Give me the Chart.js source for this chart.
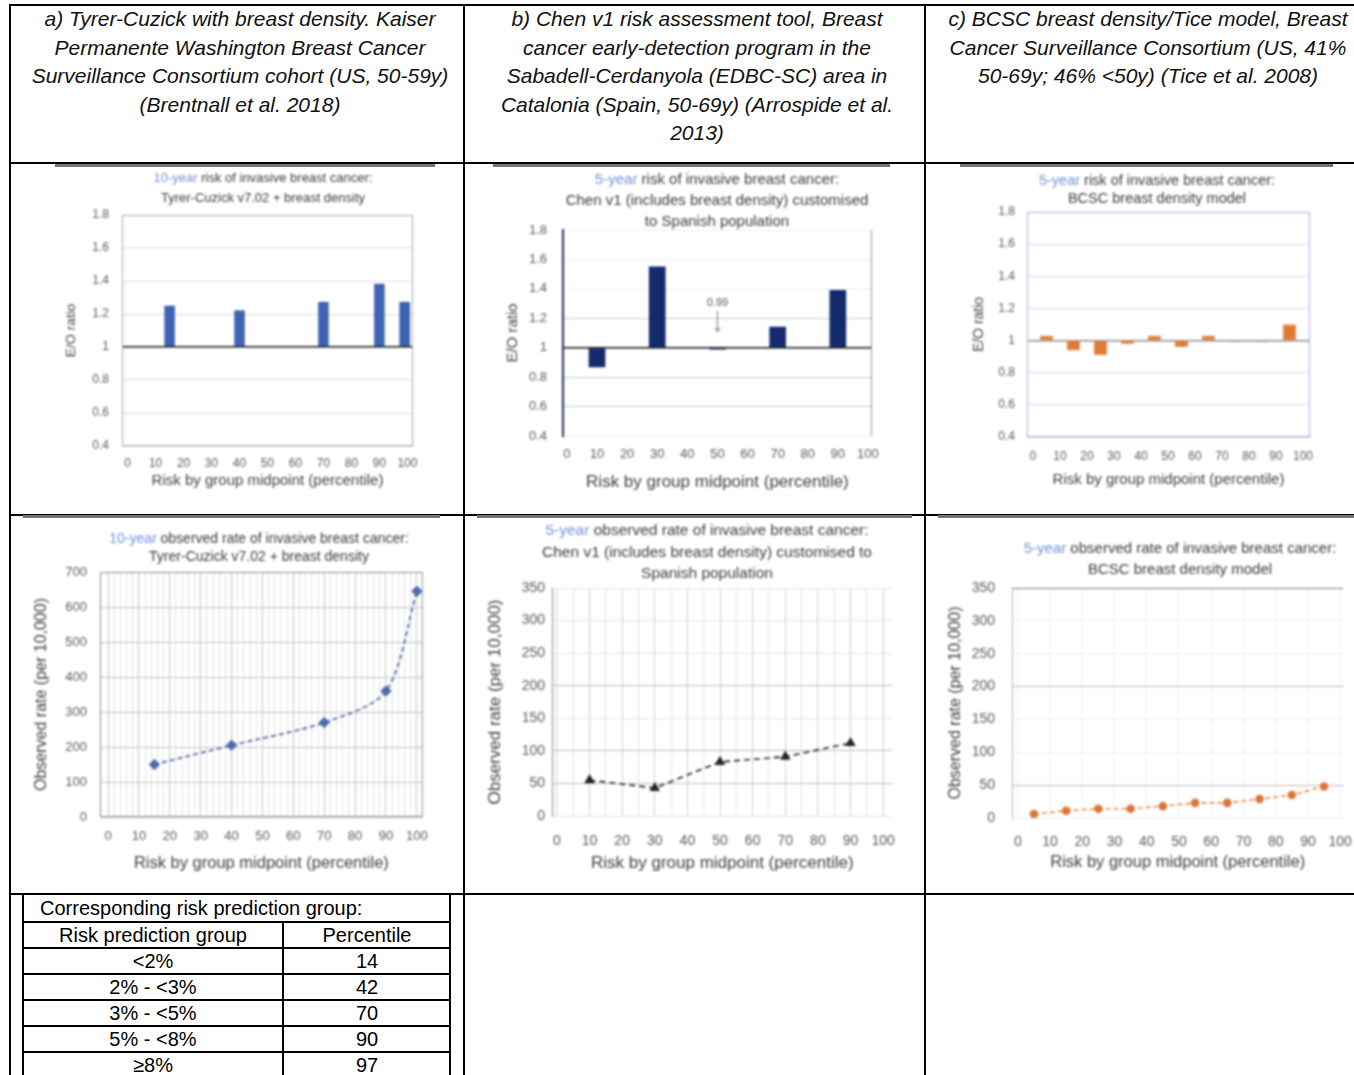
<!DOCTYPE html>
<html lang="en">
<head>
<meta charset="utf-8">
<title>Calibration of breast cancer risk models</title>
<script src="https://cdn.jsdelivr.net/npm/chart.js@4.4.1/dist/chart.umd.min.js"></script>
<style>
  html, body { margin: 0; padding: 0; background: #fff; }
  body { width: 1354px; height: 1075px; overflow: hidden; position: relative;
         font-family: "Liberation Sans", Arial, sans-serif; }
  .rule { position: absolute; background: #000; }
  .head { position: absolute; top: 5px; font-style: italic; font-size: 21px; line-height: 28.5px;
          text-align: center; white-space: nowrap; color: #111; }
  .band { position: absolute; height: 3px; background: linear-gradient(#8a8a8a, #333); }
  .fig { position: absolute; background: #fff; filter: blur(0.8px); }
  .fig canvas { position: absolute; left: 0; top: 0; }
  .ct { position: absolute; width: 520px; text-align: center; white-space: nowrap; color: #3b3b3b; }
  .ct .yr { color: #7092d8; }
  .cell { position: absolute; font-size: 20px; line-height: 26px; white-space: nowrap; color: #000; }
</style>
</head>
<body>

<div class="head" style="left:14px;width:452px">a) Tyrer-Cuzick with breast density. Kaiser<br>Permanente Washington Breast Cancer<br>Surveillance Consortium cohort (US, 50-59y)<br>(Brentnall et al. 2018)</div>
<div class="head" style="left:467px;width:460px">b) Chen v1 risk assessment tool, Breast<br>cancer early-detection program in the<br>Sabadell-Cerdanyola (EDBC-SC) area in<br>Catalonia (Spain, 50-69y) (Arrospide et al.<br>2013)</div>
<div class="head" style="left:926px;width:444px">c) BCSC breast density/Tice model, Breast<br>Cancer Surveillance Consortium (US, 41%<br>50-69y; 46% &lt;50y) (Tice et al. 2008)</div>

<script>
// ---------------- data ----------------
const pctAxisLabels = [0, 10, 20, 30, 40, 50, 60, 70, 80, 90, 100];

// Tyrer-Cuzick v7.02 + breast density (Kaiser Permanente Washington, 10-year)
const tcRatioPct = [15, 40, 70, 90, 99];
const tcRatio    = [1.25, 1.22, 1.27, 1.38, 1.27];
const tcRatePct  = [15, 40, 70, 90, 100];
const tcRate     = [150, 205, 270, 360, 645];

// Chen v1 customised to the Spanish population (EDBC-SC, 5-year)
const chenRatioPct = [10, 30, 50, 70, 90];
const chenRatio    = [0.87, 1.55, 0.99, 1.14, 1.39];
const chenRatePct  = [10, 30, 50, 70, 90];
const chenRate     = [55, 43, 83, 91, 112];

// BCSC breast density model (5-year), decile midpoints
const bcscPct   = [5, 15, 25, 35, 45, 55, 65, 75, 85, 95];
const bcscRatio = [1.03, 0.94, 0.91, 0.98, 1.03, 0.96, 1.03, 0.995, 0.995, 1.10];
const bcscRate  = [6, 11, 14, 14, 18, 23, 23, 29, 35, 48];

// risk prediction groups of panel a and their percentile
const riskGroups      = ['<2%', '2% - <3%', '3% - <5%', '5% - <8%', '≥8%'];
const groupPercentile = [14, 42, 70, 90, 97];

// ---------------- page grid ----------------
function rule(x, y, w, h) {
  const d = document.createElement('div');
  d.className = 'rule';
  d.style.cssText = `left:${x}px;top:${y}px;width:${w}px;height:${h}px`;
  document.body.appendChild(d);
}
rule(9, 4, 1400, 2);
rule(9, 4, 2, 1100);
rule(463, 4, 2, 1100);
rule(924, 4, 2, 1100);
rule(9, 162, 1400, 2);
rule(9, 514, 1400, 2);
rule(9, 893, 1400, 2);

// lookup table under panel a
rule(22, 893, 2, 200);
rule(449, 893, 2, 200);
rule(282, 921, 2, 200);
[921, 947, 973, 999, 1025, 1051].forEach(y => rule(22, y, 429, 2));

function cell(text, x, y, align) {
  const d = document.createElement('div');
  d.className = 'cell';
  d.textContent = text;
  if (align === 'left') {
    d.style.cssText = `left:${x}px;top:${y - 13}px`;
  } else {
    d.style.cssText = `left:${x - 150}px;top:${y - 13}px;width:300px;text-align:center`;
  }
  document.body.appendChild(d);
}
cell('Corresponding risk prediction group:', 40, 908, 'left');
cell('Risk prediction group', 153, 935);
cell('Percentile', 367, 935);
riskGroups.forEach((g, i) => {
  const y = 961 + i * 26;
  cell(g, 153, y);
  cell(String(groupPercentile[i]), 367, y);
});

// ---------------- charts ----------------
const FONT = '"Liberation Sans", Arial, sans-serif';
const TICK_C = '#5a5a5a';
const AXT_C = '#3f3f3f';
const near = (a, b) => Math.abs(a - b) < 1e-6;

const plotFrame = {
  id: 'plotFrame',
  beforeDatasetsDraw(chart, _args, o) {
    if (!o || !o.color) return;
    const a = chart.chartArea, c = chart.ctx, s = o.sides || 'trbl';
    c.save();
    c.strokeStyle = o.color;
    c.lineWidth = o.width || 1;
    c.beginPath();
    if (s.includes('t')) { c.moveTo(a.left, a.top + 0.5); c.lineTo(a.right, a.top + 0.5); }
    if (s.includes('r')) { c.moveTo(a.right - 0.5, a.top); c.lineTo(a.right - 0.5, a.bottom); }
    if (s.includes('b')) { c.moveTo(a.left, a.bottom - 0.5); c.lineTo(a.right, a.bottom - 0.5); }
    if (s.includes('l')) { c.moveTo(a.left + 0.5, a.top); c.lineTo(a.left + 0.5, a.bottom); }
    c.stroke();
    c.restore();
  }
};

// value label with a small arrow pointing at a bar that is too short to see
const callout = {
  id: 'callout',
  afterDatasetsDraw(chart, _args, o) {
    if (!o || o.index === undefined) return;
    const el = chart.getDatasetMeta(0).data[o.index];
    const v = chart.data.datasets[0].data[o.index].y;
    const y1 = chart.scales.y.getPixelForValue(1);
    const c = chart.ctx;
    c.save();
    c.fillStyle = '#555';
    c.strokeStyle = '#777';
    c.font = `11px ${FONT}`;
    c.textAlign = 'center';
    c.textBaseline = 'middle';
    c.fillText(v.toFixed(2), el.x, y1 - 45);
    c.beginPath();
    c.moveTo(el.x, y1 - 37); c.lineTo(el.x, y1 - 16);
    c.moveTo(el.x - 2.5, y1 - 20); c.lineTo(el.x, y1 - 16); c.lineTo(el.x + 2.5, y1 - 20);
    c.stroke();
    c.restore();
  }
};
Chart.register(plotFrame, callout);

function addFigure(f) {
  const band = document.createElement('div');
  band.className = 'band';
  band.style.cssText = `left:${f.left}px;top:${f.top - 3}px;width:${f.w}px`;
  document.body.appendChild(band);
  const box = document.createElement('div');
  box.className = 'fig';
  box.style.cssText = `left:${f.left}px;top:${f.top}px;width:${f.w}px;height:${f.h}px`;
  const cv = document.createElement('canvas');
  cv.width = f.w; cv.height = f.h;
  box.appendChild(cv);
  const t = document.createElement('div');
  t.className = 'ct';
  t.style.cssText = `left:${f.title.cx - 260}px;top:${f.title.top}px;font-size:${f.title.size}px;line-height:${f.title.lh}px`;
  t.innerHTML = f.title.lines
    .map(l => (l[0] ? `<span class="yr">${l[0]}</span>` : '') + l[1].replace(/</g, '&lt;'))
    .join('<br>');
  box.appendChild(t);
  document.body.appendChild(box);
  return cv;
}

function makeChart(f) {
  const cv = addFigure(f);
  const [pl, pt, pr, pb] = f.plot;
  const lh = s => s * 1.2;
  return new Chart(cv, {
    type: f.type,
    data: { datasets: f.datasets },
    options: {
      responsive: false,
      animation: false,
      devicePixelRatio: 1,
      layout: { padding: { left: 0, top: pt, right: f.w - pr, bottom: 0 } },
      plugins: {
        legend: { display: false },
        tooltip: { enabled: false },
        plotFrame: f.frame || false,
        callout: f.callout || false
      },
      scales: {
        x: {
          type: 'linear', min: f.x.min, max: f.x.max, offset: false,
          afterFit: s => { s.height = f.h - pb; },
          afterBuildTicks: s => { s.ticks = f.x.grid.map(v => ({ value: v })); },
          ticks: {
            autoSkip: false, maxRotation: 0, minRotation: 0, padding: f.x.pad,
            color: TICK_C, font: { family: FONT, size: f.tickSize },
            callback: v => (pctAxisLabels.includes(v) ? String(v) : '')
          },
          grid: {
            display: !!f.x.gridColor, offset: false, drawTicks: false,
            color: c => (f.x.gridColor ? f.x.gridColor(c.tick.value) : 'transparent')
          },
          border: f.x.border || { display: false },
          title: {
            display: true, text: 'Risk by group midpoint (percentile)', color: AXT_C,
            font: { family: FONT, size: f.x.titleSize },
            padding: { top: 0, bottom: f.x.titleCenter - lh(f.x.titleSize) / 2 }
          }
        },
        y: {
          min: f.y.min, max: f.y.max,
          afterFit: s => { s.width = pl; },
          ticks: {
            stepSize: f.y.step, padding: f.y.pad, color: TICK_C,
            font: { family: FONT, size: f.tickSize },
            callback: v => String(+v.toFixed(1))
          },
          grid: {
            drawTicks: false,
            color: c => f.y.gridColor(c.tick.value),
            lineWidth: c => (f.y.gridWidth ? f.y.gridWidth(c.tick.value) : 1)
          },
          border: f.y.border || { display: false },
          title: {
            display: true, text: f.y.title, color: AXT_C,
            font: { family: FONT, size: f.y.titleSize },
            padding: { top: f.y.titleCenter - lh(f.y.titleSize) / 2, bottom: 0 }
          }
        }
      }
    }
  });
}

const pts = (xs, ys) => xs.map((x, i) => ({ x, y: ys[i] }));
const gridEvery = step => { const g = []; for (let v = 0; v <= 100; v += step) g.push(v); return g; };

// panel a, E/O ratio
makeChart({
  left: 55, top: 167, w: 380, h: 326, plot: [67, 48, 358, 279], type: 'bar',
  title: { cx: 208, top: 1, lh: 20, size: 13,
           lines: [['10-year', ' risk of invasive breast cancer:'], [null, 'Tyrer-Cuzick v7.02 + breast density']] },
  tickSize: 12,
  x: { min: -2, max: 102, grid: pctAxisLabels, pad: 10, titleSize: 15, titleCenter: 12 },
  y: { min: 0.4, max: 1.8, step: 0.2, pad: 13, title: 'E/O ratio', titleSize: 13.5, titleCenter: 16,
       gridColor: v => (near(v, 1) ? '#111' : '#dadada'), gridWidth: v => (near(v, 1) ? 1.5 : 1) },
  frame: { color: '#a9a9a9' },
  datasets: [{ data: pts(tcRatioPct, tcRatio), base: 1, barThickness: 10,
               backgroundColor: '#3e64b6', borderColor: '#2d4f98', borderWidth: 1 }]
});

// panel b, E/O ratio
makeChart({
  left: 493, top: 167, w: 397, h: 326, plot: [70, 63, 381, 269], type: 'bar',
  title: { cx: 224, top: 0.5, lh: 21, size: 15,
           lines: [['5-year', ' risk of invasive breast cancer:'],
                   [null, 'Chen v1 (includes breast density) customised'],
                   [null, 'to Spanish population']] },
  tickSize: 13,
  x: { min: -1.3, max: 101.3, grid: pctAxisLabels, pad: 11, titleSize: 17, titleCenter: 11 },
  y: { min: 0.4, max: 1.8, step: 0.2, pad: 16, title: 'E/O ratio', titleSize: 15, titleCenter: 20,
       gridColor: v => (near(v, 1) ? '#111' : ([1.2, 0.8, 0.6].some(g => near(v, g)) ? '#c8c8c8' : '#eeeeee')),
       gridWidth: v => (near(v, 1) ? 1.5 : 1),
       border: { display: true, color: '#1e2d63', width: 2 } },
  frame: { color: '#8090b4', sides: 'r' },
  callout: { index: 2 },
  datasets: [{ data: pts(chenRatioPct, chenRatio), base: 1, barThickness: 16,
               backgroundColor: '#142a6b', borderColor: '#142a6b', borderWidth: 0 }]
});

// panel c, E/O ratio
makeChart({
  left: 960, top: 167, w: 373, h: 326, plot: [67, 45, 350, 270], type: 'bar',
  title: { cx: 197, top: 4, lh: 18, size: 14.5,
           lines: [['5-year', ' risk of invasive breast cancer:'], [null, 'BCSC breast density model']] },
  tickSize: 12,
  x: { min: -2.2, max: 102.6, grid: pctAxisLabels, pad: 12, titleSize: 15, titleCenter: 13 },
  y: { min: 0.4, max: 1.8, step: 0.2, pad: 12, title: 'E/O ratio', titleSize: 14, titleCenter: 19,
       gridColor: v => (near(v, 1) ? '#8c8c8c' : '#cfd8ea'), gridWidth: v => (near(v, 1) ? 1.5 : 1) },
  frame: { color: '#9fb1d6' },
  datasets: [{ data: pts(bcscPct, bcscRatio), base: 1, barThickness: 13,
               backgroundColor: '#e07a33', borderColor: '#efa068', borderWidth: 1 }]
});

// panel a, observed rate
makeChart({
  left: 23, top: 518, w: 417, h: 362, plot: [77, 54, 401, 299], type: 'line',
  title: { cx: 236, top: 11, lh: 18, size: 14,
           lines: [['10-year', ' observed rate of invasive breast cancer:'], [null, 'Tyrer-Cuzick v7.02 + breast density']] },
  tickSize: 13,
  x: { min: -2.6, max: 101.9, grid: gridEvery(2), pad: 12, titleSize: 16.5, titleCenter: 17,
       gridColor: v => (v % 10 === 0 ? '#c4c4c4' : '#e2e2e2') },
  y: { min: 0, max: 700, step: 100, pad: 13, title: 'Observed rate (per 10,000)', titleSize: 16, titleCenter: 19,
       gridColor: () => '#c4c4c4' },
  frame: { color: '#8d8d8d' },
  datasets: [{ data: pts(tcRatePct, tcRate), borderColor: '#3f5a93', borderWidth: 1.6, borderDash: [5, 3],
               tension: 0.3, fill: false,
               pointStyle: 'rectRot', pointRadius: 4.5,
               pointBackgroundColor: '#4b6cab', pointBorderColor: '#4b6cab' }]
});

// panel b, observed rate
makeChart({
  left: 477, top: 518, w: 435, h: 362, plot: [75, 70, 431, 298], type: 'line',
  title: { cx: 230, top: 1, lh: 21.5, size: 15.5,
           lines: [['5-year', ' observed rate of invasive breast cancer:'],
                   [null, 'Chen v1 (includes breast density) customised to'],
                   [null, 'Spanish population']] },
  tickSize: 14,
  x: { min: -1.5, max: 102.9, grid: gridEvery(5), pad: 17, titleSize: 17, titleCenter: 17,
       gridColor: v => (v % 10 === 0 ? '#cfcfcf' : '#e4e4e4') },
  y: { min: 0, max: 350, step: 50, pad: 7, title: 'Observed rate (per 10,000)', titleSize: 17, titleCenter: 18,
       gridColor: v => ([50, 100, 200].includes(v) ? '#bdbdbd' : '#e3e3e3'),
       border: { display: true, color: '#8a8a8a', width: 1 } },
  datasets: [{ data: pts(chenRatePct, chenRate), borderColor: '#222', borderWidth: 1.6, borderDash: [6, 4],
               tension: 0, fill: false, pointStyle: 'triangle', pointRadius: 4.5,
               pointBackgroundColor: '#222', pointBorderColor: '#222' }]
});

// panel c, observed rate
makeChart({
  left: 938, top: 518, w: 430, h: 362, plot: [74, 70, 412, 300], type: 'line',
  title: { cx: 242, top: 18.5, lh: 21, size: 15,
           lines: [['5-year', ' observed rate of invasive breast cancer:'], [null, 'BCSC breast density model']] },
  tickSize: 14,
  x: { min: -1.8, max: 101, grid: pctAxisLabels, pad: 16, titleSize: 16.5, titleCenter: 18,
       gridColor: () => '#f0f0f0' },
  y: { min: 0, max: 350, step: 50, pad: 17, title: 'Observed rate (per 10,000)', titleSize: 16, titleCenter: 18,
       gridColor: v => ([50, 200].includes(v) ? '#bdbdbd' : '#eeeeee'),
       border: { display: true, color: '#b5b5b5', width: 1 } },
  frame: { color: '#7a7a7a', sides: 't' },
  datasets: [{ data: pts(bcscPct, bcscRate), borderColor: '#e58a4a', borderWidth: 1.6, borderDash: [5, 3],
               tension: 0, fill: false, pointStyle: 'circle', pointRadius: 3.5,
               pointBackgroundColor: '#d9773a', pointBorderColor: '#d9773a' }]
});
</script>
</body>
</html>
